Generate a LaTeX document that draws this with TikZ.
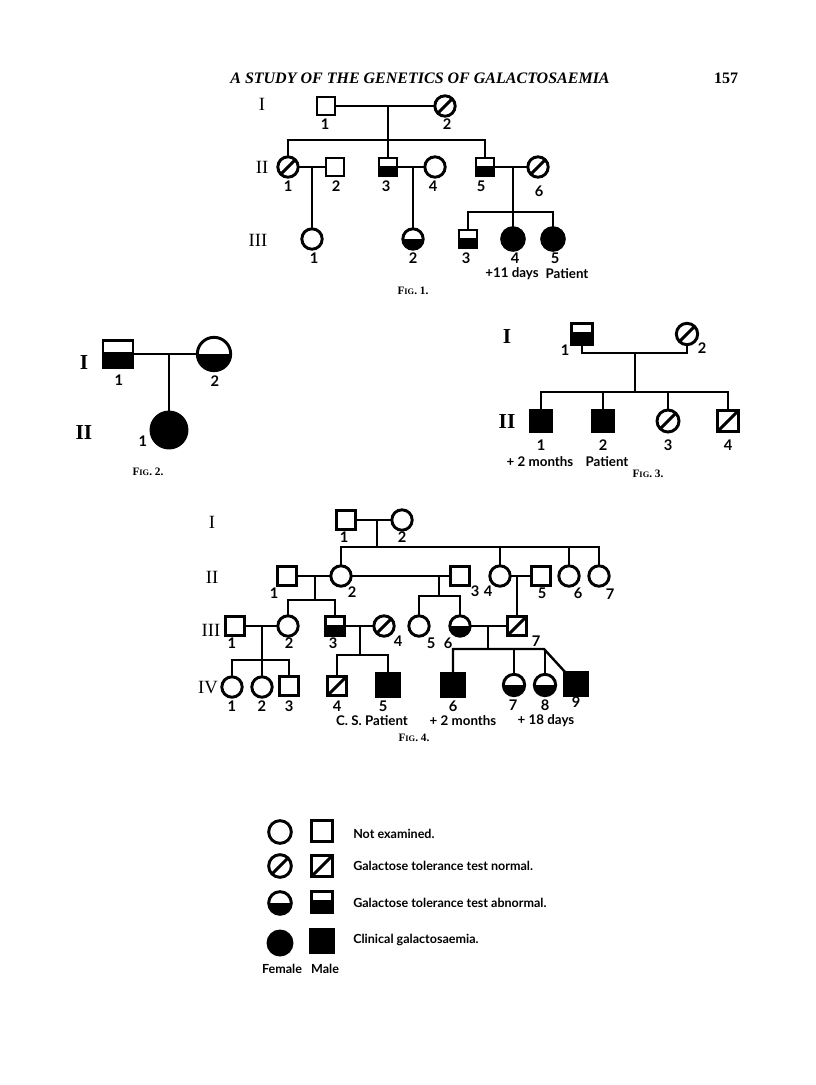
\documentclass[tikz,border=0pt]{standalone}
\usepackage{fontspec}
\setmainfont{Liberation Serif}
\setsansfont{Lato}
\usetikzlibrary{calc}
\tikzset{
  sym/.style={draw, line width=2.2pt, inner sep=0pt, outer sep=0pt},
  male/.style={sym, rectangle, minimum size=#1},
  fem/.style={sym, circle, minimum size=#1},
  nrm/.style={path picture={\draw[line width=2.2pt] (path picture bounding box.south west) -- (path picture bounding box.north east);}},
  abnM/.style={path picture={\fill (path picture bounding box.south west) rectangle ($(path picture bounding box.north east)!0.42!(path picture bounding box.south east)$);}},
  abnF/.style={path picture={\fill (path picture bounding box.south west) rectangle ($(path picture bounding box.north east)!0.5!(path picture bounding box.south east)$);}},
  aff/.style={fill=black},
  ln/.style={line width=1.8pt},
  num/.style={font=\sffamily\bfseries\fontsize{11}{13}\selectfont, inner sep=0pt},
  gen/.style={font=\fontsize{14}{16}\selectfont, inner sep=0pt},
  genb/.style={font=\bfseries\fontsize{16}{18}\selectfont, inner sep=0pt},
  figcap/.style={font=\bfseries\fontsize{8.5}{10}\selectfont, inner sep=0pt},
  note/.style={font=\sffamily\bfseries\fontsize{10}{12}\selectfont, inner sep=0pt},
  leg/.style={font=\sffamily\bfseries\fontsize{9.4}{11}\selectfont, inner sep=0pt, anchor=west},
}
\newcommand{\figlab}[1]{F{\fontsize{6.3}{8}\selectfont IG}. #1.}
\begin{document}
\begin{tikzpicture}[x=0.75pt,y=-0.75pt]
\fill[white] (0,0) rectangle (816,1085);
\useasboundingbox (0,0) rectangle (816,1085);

% header
\node[font=\bfseries\itshape\fontsize{12}{14}\selectfont, inner sep=0pt] (title) at (420,78) {A STUDY OF THE GENETICS OF GALACTOSAEMIA};
\node[font=\bfseries\fontsize{12}{14}\selectfont, inner sep=0pt] (page) at (726,78) {157};

% ================= FIG 1 =================
\node[gen] (f1g1) at (262,104) {I};
\node[gen] (f1g2) at (262,167) {II};
\node[gen] (f1g3) at (258,240) {III};

\node[male=13.5pt] (f1i1) at (326,106) {};
\node[fem=15.3pt, nrm] (f1i2) at (445,106) {};
\node[male=13.5pt] (f1ii2) at (335,167) {};
\node[fem=15.3pt, nrm] (f1ii1) at (288,167) {};
\node[male=13.5pt, abnM] (f1ii3) at (388,167) {};
\node[fem=15.3pt] (f1ii4) at (435,167) {};
\node[male=13.5pt, abnM] (f1ii5) at (485,167) {};
\node[fem=15.3pt, nrm] (f1ii6) at (538,167) {};
\node[fem=15.3pt] (f1iii1) at (312,239) {};
\node[fem=15.3pt, abnF] (f1iii2) at (413,239) {};
\node[male=13.5pt, abnM] (f1iii3) at (468,239) {};
\node[fem=17pt, aff] (f1iii4) at (513,239) {};
\node[fem=17pt, aff] (f1iii5) at (553,239) {};

\coordinate (f1m1) at (388,106);
\coordinate (f1s1) at (388,140);
\coordinate (f1m2) at (312,167);
\coordinate (f1m3) at (413,167);
\coordinate (f1m4) at (513,167);
\coordinate (f1s4) at (513,212);

\draw[ln] (f1i1) -- (f1i2);
\draw[ln] (f1m1) -- (f1s1);
\draw[ln] (f1ii1) |- (f1ii5 |- f1s1) -- (f1ii5);
\draw[ln] (f1ii3) -- (f1ii3 |- f1s1);
\draw[ln] (f1ii1) -- (f1ii2);
\draw[ln] (f1ii3) -- (f1ii4);
\draw[ln] (f1ii5) -- (f1ii6);
\draw[ln] (f1m2) -- (f1iii1);
\draw[ln] (f1m3) -- (f1iii2);
\draw[ln] (f1m4) -- (f1s4);
\draw[ln] (f1iii3) |- (f1iii5 |- f1s4) -- (f1iii5);
\draw[ln] (f1iii4) -- (f1iii4 |- f1s4);

\node[num] (f1n11) at (325,124) {1};
\node[num] (f1n12) at (447,124) {2};
\node[num] (f1n21) at (288,186) {1};
\node[num] (f1n22) at (336,186) {2};
\node[num] (f1n23) at (386,186) {3};
\node[num] (f1n24) at (433,186) {4};
\node[num] (f1n25) at (481,186) {5};
\node[num] (f1n26) at (539,191) {6};
\node[num] (f1n31) at (314,258) {1};
\node[num] (f1n32) at (413,258) {2};
\node[num] (f1n33) at (466,258) {3};
\node[num] (f1n34) at (515,258) {4};
\node[num] (f1n35) at (555,258) {5};
\node[note] (f1t1) at (512,274) {+11 days};
\node[note] (f1t2) at (567,274) {Patient};
\node[figcap] (f1cap) at (413,291) {\figlab{1}};

% ================= FIG 2 =================
\node[genb] (f2g1) at (84,363) {I};
\node[genb] (f2g2) at (84,433) {II};
\node[sym, rectangle, minimum width=22.5pt, minimum height=20.5pt, abnM] (f2i1) at (118,354) {};
\node[fem=25pt, abnF] (f2i2) at (214,354) {};
\node[fem=27pt, aff] (f2ii1) at (169,430) {};
\coordinate (f2m) at (169,354);
\draw[ln] (f2i1) -- (f2i2);
\draw[ln] (f2m) -- (f2ii1);
\node[num] (f2n1) at (119,380) {1};
\node[num] (f2n2) at (215,381) {2};
\node[num] (f2n3) at (143,441) {1};
\node[figcap] (f2cap) at (148,472) {\figlab{2}};

% ================= FIG 3 =================
\node[genb] (f3g1) at (507,337) {I};
\node[genb] (f3g2) at (507,422) {II};
\node[male=16pt, abnM] (f3i1) at (582,334) {};
\node[fem=16pt, nrm] (f3i2) at (687,334) {};
\node[male=16pt, aff] (f3ii1) at (541,421) {};
\node[male=16pt, aff] (f3ii2) at (603,421) {};
\node[fem=16.5pt, nrm] (f3ii3) at (668,421) {};
\node[male=16pt, nrm] (f3ii4) at (728,421) {};
\coordinate (f3m) at (635,353);
\coordinate (f3s) at (635,392);
\draw[ln] (f3i1) |- (f3m) -| (f3i2);
\draw[ln] (f3m) -- (f3s);
\draw[ln] (f3ii1) |- (f3ii4 |- f3s) -- (f3ii4);
\draw[ln] (f3ii2) -- (f3ii2 |- f3s);
\draw[ln] (f3ii3) -- (f3ii3 |- f3s);
\node[num] (f3n11) at (565,350) {1};
\node[num] (f3n12) at (702,348) {2};
\node[num] (f3n21) at (541,445) {1};
\node[num] (f3n22) at (603,445) {2};
\node[num] (f3n23) at (668,445) {3};
\node[num] (f3n24) at (728,445) {4};
\node[note] (f3t1) at (540,462) {+ 2 months};
\node[note] (f3t2) at (607,462) {Patient};
\node[figcap] (f3cap) at (648,474) {\figlab{3}};

% ================= FIG 4 =================
\node[gen] (f4g1) at (212,522) {I};
\node[gen] (f4g2) at (212,577) {II};
\node[gen] (f4g3) at (211,630) {III};
\node[gen] (f4g4) at (208,688) {IV};

\node[male=13.8pt] (f4i1) at (346,520) {};
\node[fem=15.3pt] (f4i2) at (402,520) {};

\node[male=13.8pt] (f4ii1) at (287,576) {};
\node[fem=15.3pt] (f4ii2) at (341,576) {};
\node[male=13.8pt] (f4ii3) at (460,576) {};
\node[fem=15.3pt] (f4ii4) at (500,576) {};
\node[male=13.8pt] (f4ii5) at (541,576) {};
\node[fem=15.3pt] (f4ii6) at (569,576) {};
\node[fem=15.3pt] (f4ii7) at (599,576) {};

\node[male=13.8pt] (f4iii1) at (235,626) {};
\node[fem=15.3pt] (f4iii2) at (288,626) {};
\node[male=13.8pt, abnM] (f4iii3) at (335,626) {};
\node[fem=15.3pt, nrm] (f4iii4) at (384,626) {};
\node[fem=15.3pt] (f4iii5) at (419,626) {};
\node[fem=15.3pt, abnF] (f4iii6) at (460,626) {};
\node[male=13.8pt, nrm] (f4iii7) at (517,626) {};

\node[fem=15.3pt] (f4iv1) at (232,687) {};
\node[fem=15.3pt] (f4iv2) at (262,687) {};
\node[male=13.8pt] (f4iv3) at (289,686) {};
\node[male=13.8pt, nrm] (f4iv4) at (337,686) {};
\node[male=17pt, aff] (f4iv5) at (388,685) {};
\node[male=17pt, aff] (f4iv6) at (453,685) {};
\node[fem=16pt, abnF] (f4iv7) at (514,685) {};
\node[fem=16pt, abnF] (f4iv8) at (545,685) {};
\node[male=17pt, aff] (f4iv9) at (576,684) {};

\coordinate (f4m1) at (377,520);
\coordinate (f4s1) at (377,547);
\coordinate (f4m2) at (315,576);
\coordinate (f4s2) at (315,600);
\coordinate (f4m3) at (439,576);
\coordinate (f4s3) at (439,596);
\coordinate (f4m4) at (517,576);
\coordinate (f4m5) at (262,626);
\coordinate (f4s5) at (262,660);
\coordinate (f4m6) at (360,626);
\coordinate (f4s6) at (360,655);
\coordinate (f4m7) at (488,626);
\coordinate (f4s7) at (488,649);
\coordinate (f4k7) at (544,649);

\draw[ln] (f4i1) -- (f4i2);
\draw[ln] (f4m1) -- (f4s1);
\draw[ln] (f4ii2) |- (f4ii7 |- f4s1) -- (f4ii7);
\draw[ln] (f4ii4) -- (f4ii4 |- f4s1);
\draw[ln] (f4ii6) -- (f4ii6 |- f4s1);

\draw[ln] (f4ii1) -- (f4ii2);
\draw[ln] (f4ii2) -- (f4ii3);
\draw[ln] (f4ii4) -- (f4ii5);
\draw[ln] (f4m2) -- (f4s2);
\draw[ln] (f4iii2) |- (f4iii3 |- f4s2) -- (f4iii3);
\draw[ln] (f4m3) -- (f4s3);
\draw[ln] (f4iii5) |- (f4iii6 |- f4s3) -- (f4iii6);
\draw[ln] (f4m4) -- (f4iii7);

\draw[ln] (f4iii1) -- (f4iii2);
\draw[ln] (f4iii3) -- (f4iii4);
\draw[ln] (f4iii6) -- (f4iii7);
\draw[ln] (f4m5) -- (f4s5);
\draw[ln] (f4iv1) |- (f4iv3 |- f4s5) -- (f4iv3);
\draw[ln] (f4iv2) -- (f4iv2 |- f4s5);
\draw[ln] (f4m6) -- (f4s6);
\draw[ln] (f4iv4) |- (f4iv5 |- f4s6) -- (f4iv5);
\draw[ln] (f4m7) -- (f4s7);
\draw[ln] (f4iv6) |- (f4k7) -- (f4iv9);
\draw[ln] (f4iv7) -- (f4iv7 |- f4s7);
\draw[ln] (f4iv8) -- (f4iv8 |- f4s7);

\node[num] (f4n11) at (344,537) {1};
\node[num] (f4n12) at (402,537) {2};
\node[num] (f4n21) at (274,593) {1};
\node[num] (f4n22) at (352,592) {2};
\node[num] (f4n23) at (475,591) {3};
\node[num] (f4n24) at (488,591) {4};
\node[num] (f4n25) at (542,593) {5};
\node[num] (f4n26) at (578,593) {6};
\node[num] (f4n27) at (610,594) {7};
\node[num] (f4n31) at (232,643) {1};
\node[num] (f4n32) at (289,643) {2};
\node[num] (f4n33) at (333,643) {3};
\node[num] (f4n34) at (398,641) {4};
\node[num] (f4n35) at (431,643) {5};
\node[num] (f4n36) at (448,643) {6};
\node[num] (f4n37) at (536,641) {7};
\node[num] (f4n41) at (232,706) {1};
\node[num] (f4n42) at (262,706) {2};
\node[num] (f4n43) at (289,706) {3};
\node[num] (f4n44) at (337,706) {4};
\node[num] (f4n45) at (383,706) {5};
\node[num] (f4n46) at (453,706) {6};
\node[num] (f4n47) at (513,705) {7};
\node[num] (f4n48) at (545,705) {8};
\node[num] (f4n49) at (576,702) {9};
\node[note] (f4t1) at (372,721) {C. S. Patient};
\node[note] (f4t2) at (463,721) {+ 2 months};
\node[note] (f4t3) at (546,721) {+ 18 days};
\node[figcap] (f4cap) at (414,738) {\figlab{4}};

% ================= LEGEND =================
\node[fem=17pt] (lg1f) at (280,832) {};
\node[male=16pt] (lg1m) at (322,831) {};
\node[fem=17pt, nrm] (lg2f) at (280,866) {};
\node[male=16pt, nrm] (lg2m) at (322,866) {};
\node[fem=17pt, abnF] (lg3f) at (280,903) {};
\node[male=16pt, abnM] (lg3m) at (322,902) {};
\node[fem=18pt, aff] (lg4f) at (280,943) {};
\node[male=17pt, aff] (lg4m) at (322,941) {};
\node[leg] (lgt1) at (353,834) {Not examined.};
\node[leg] (lgt2) at (353,866) {Galactose tolerance test normal.};
\node[leg] (lgt3) at (353,903) {Galactose tolerance test abnormal.};
\node[leg] (lgt4) at (353,940) {Clinical galactosaemia.};
\node[leg, anchor=center] (lgfe) at (282,969) {Female};
\node[leg, anchor=center] (lgma) at (325,969) {Male};
\end{tikzpicture}
\end{document}
